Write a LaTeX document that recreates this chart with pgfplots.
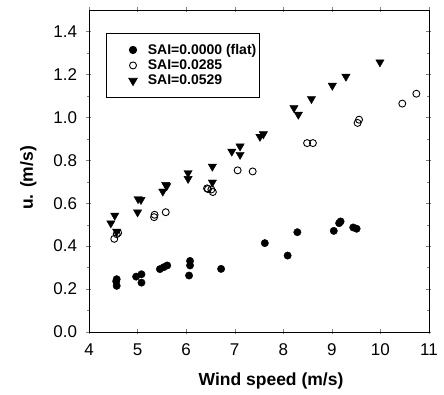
\documentclass[border=0pt]{standalone}
\usepackage{fontspec}
\setmainfont{Liberation Sans}
\usepackage{pgfplots}
\pgfplotsset{compat=1.18}
\begin{document}
\begin{tikzpicture}
\useasboundingbox (-89pt,-63pt) rectangle (355pt,332pt);
\begin{axis}[
  scale only axis, width=340pt, height=322pt,
  xmin=4, xmax=11, ymin=0, ymax=1.5,
  xtick={4,5,...,11}, ytick={0,0.2,...,1.4},
  minor y tick num=1,
  /pgf/number format/assume math mode=true,
  tick label style={font=\fontsize{17}{19}\selectfont},
  xticklabel style={yshift=-6pt},
  yticklabel style={xshift=-6pt, /pgf/number format/fixed, /pgf/number format/fixed zerofill, /pgf/number format/precision=1},
  tick align=center, tick pos=both,
  major tick length=5pt, minor tick length=3pt,
  xlabel={\bfseries Wind speed (m/s)},
  ylabel={\bfseries u. (m/s)},
  label style={font=\fontsize{17.5}{20}\selectfont},
  xlabel style={yshift=-10pt, xshift=12pt},
  ylabel style={yshift=10pt, xshift=-7pt},
  legend style={at={(axis cs:4.35,1.394)}, anchor=north west, draw=black, line width=0.8pt,
    font=\bfseries\fontsize{14}{16}\selectfont, inner xsep=1pt, inner ysep=9pt,
    row sep=0pt, legend cell align=left},
  legend image code/.code={\draw[draw=none,fill=none] (0,0) -- (1.35cm,0); \draw[mark repeat=2,mark phase=2,#1] plot coordinates {(0.45cm,0cm) (0.9cm,0cm) (1.35cm,0cm)};},
]
\addplot[only marks, mark=*, mark size=3.7pt, draw=black, fill=black] coordinates {
(4.57,0.246) (4.56,0.236) (4.57,0.215) (4.97,0.258) (5.08,0.269) (5.08,0.23)
(5.46,0.293) (5.54,0.302) (5.61,0.31) (6.08,0.331) (6.08,0.31) (6.06,0.263)
(6.72,0.294) (7.62,0.414) (8.09,0.356) (8.29,0.465) (9.04,0.471) (9.15,0.507)
(9.18,0.515) (9.44,0.487) (9.51,0.481)
};
\addlegendentry{SAI=0.0000 (flat)}
\addplot[only marks, mark=o, mark size=3.5pt, draw=black, line width=0.9pt] coordinates {
(10.74,1.11) (10.45,1.064) (9.56,0.989) (9.53,0.974) (8.49,0.88) (8.61,0.88)
(7.06,0.753) (7.37,0.748) (6.43,0.669) (6.52,0.664) (6.55,0.652) (6.45,0.666)
(5.34,0.535) (5.35,0.546) (5.58,0.558) (4.57,0.456) (4.52,0.434) (4.6,0.462)
};
\addlegendentry{SAI=0.0285}
\addplot[only marks, mark=triangle*, mark options={rotate=180}, mark size=4.8pt, draw=black, fill=black] coordinates {
(9.99,1.257) (9.29,1.19) (9.01,1.148) (8.58,1.086) (8.22,1.044) (8.31,1.013)
(7.59,0.922) (7.52,0.91) (6.94,0.841) (7.11,0.865) (7.11,0.826) (6.54,0.771)
(6.54,0.697) (6.04,0.741) (6.04,0.714) (5.58,0.686) (5.52,0.655) (5.60,0.68)
(5.01,0.62) (5.07,0.616) (5.0,0.558) (4.53,0.543) (4.45,0.507) (4.57,0.468)
};
\addlegendentry{SAI=0.0529}
\end{axis}
\end{tikzpicture}
\end{document}
